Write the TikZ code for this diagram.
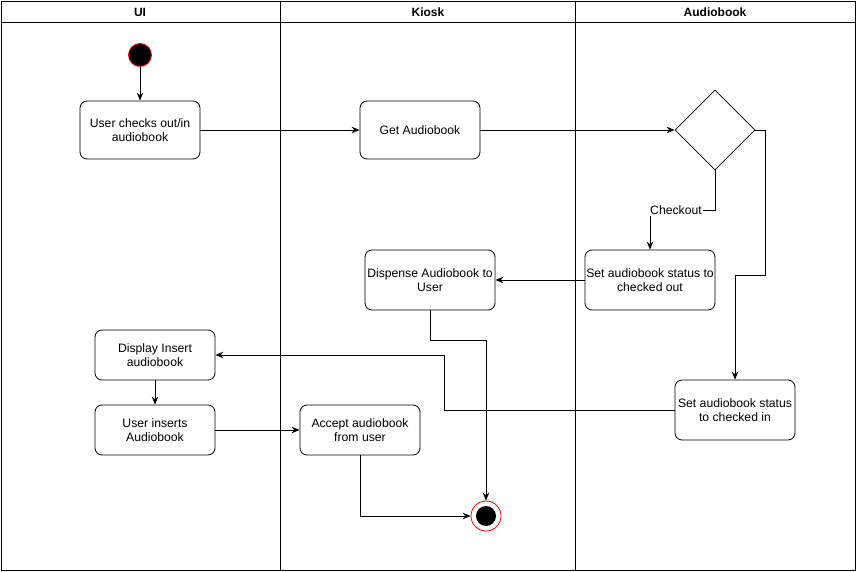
\documentclass[tikz,border=0pt]{standalone}
\usepackage{fontspec}
\setmainfont{Liberation Sans}
\usetikzlibrary{arrows.meta,shapes.geometric}
\tikzset{
  box/.style={draw, rounded corners=7pt, align=center, line width=0.8pt, font=\fontsize{12.2}{14}\selectfont, inner sep=1pt},
  arr/.style={-{Stealth[length=8pt,width=6.5pt]}, line width=0.8pt},
  lane/.style={line width=0.8pt},
  head/.style={font=\fontsize{12}{14}\selectfont\bfseries},
}
\begin{document}
\begin{tikzpicture}[x=1pt,y=-1pt]
\useasboundingbox (0,0) rectangle (857,572);
% pool
\draw[lane] (1,1) rectangle (855,570);
\draw[lane] (1,22) -- (855,22);
\draw[lane] (280,1) -- (280,570);
\draw[lane] (575,1) -- (575,570);
\node[head] (hui) at (140,12) {UI};
\node[head] (hki) at (428,12) {Kiosk};
\node[head] (hab) at (715,12) {Audiobook};
% nodes
\node[circle, fill=black, draw=red, line width=0.8pt, minimum size=23pt, inner sep=0pt] (start) at (140,55) {};
\node[box, minimum width=120pt, minimum height=58pt] (uco) at (140,130) {User checks out/in\\audiobook};
\node[box, minimum width=120pt, minimum height=58pt] (get) at (420,130) {Get Audiobook};
\node[diamond, draw, line width=0.8pt, minimum width=80pt, minimum height=80pt, inner sep=0pt] (dia) at (715,130) {};
\node[box, minimum width=130pt, minimum height=60pt] (sout) at (650,280) {Set audiobook status to\\checked out};
\node[box, minimum width=130pt, minimum height=60pt] (disp) at (430,280) {Dispense Audiobook to\\User};
\node[box, minimum width=120pt, minimum height=50pt] (dis) at (155,355) {Display Insert\\audiobook};
\node[box, minimum width=120pt, minimum height=50pt] (ins) at (155,430) {User inserts\\Audiobook};
\node[box, minimum width=120pt, minimum height=50pt] (acc) at (360,430) {Accept audiobook\\from user};
\node[box, minimum width=120pt, minimum height=60pt] (sin) at (735,410) {Set audiobook status\\to checked in};
\node[circle, draw=red, line width=0.8pt, minimum size=30pt, inner sep=0pt] (end) at (486,516) {};
\fill (end.center) circle (10);
% edges
\draw[arr] (start) -- (uco);
\draw[arr] (uco) -- (get);
\draw[arr] (get) -- (dia);
\draw[arr] (dia.south) -- ++(0,40) -| node[pos=0.3, fill=white, inner sep=1pt, font=\fontsize{12.2}{14}\selectfont] (lbl) {Checkout} (sout.north);
\draw[arr] (dia.east) -- ++(10,0) -- ++(0,145) -| (sin.north);
\draw[arr] (sout) -- (disp);
\draw[arr] (disp.south) -- ++(0,30) -| (end.north);
\draw[arr] (sin.west) -- ++(-230,0) |- (dis.east);
\draw[arr] (dis) -- (ins);
\draw[arr] (ins) -- (acc);
\draw[arr] (acc.south) |- (end.west);
\end{tikzpicture}
\end{document}
